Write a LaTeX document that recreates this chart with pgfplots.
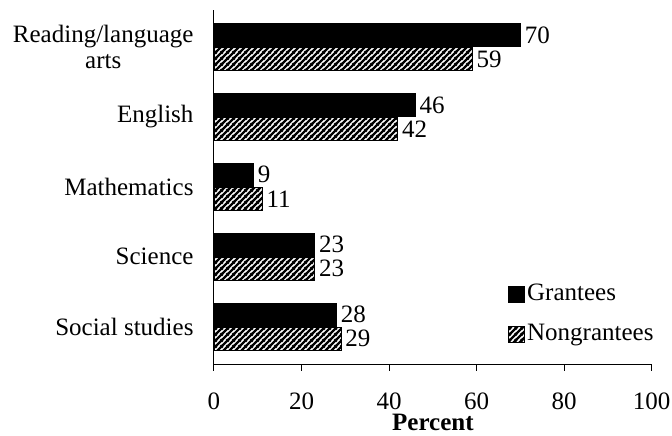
\documentclass[border=0pt]{standalone}
\usepackage{fontspec}
\setmainfont{Liberation Serif}
\usepackage{pgfplots}
\pgfplotsset{compat=1.18}
\usetikzlibrary{patterns}
\pgfdeclarepatternformonly{myhatch}{\pgfpoint{0pt}{0pt}}{\pgfpoint{6pt}{6pt}}{\pgfpoint{6pt}{6pt}}{
  \pgfsetlinewidth{2.5pt}
  \pgfpathmoveto{\pgfpoint{-1pt}{-1pt}}\pgfpathlineto{\pgfpoint{7pt}{7pt}}
  \pgfpathmoveto{\pgfpoint{-1pt}{5pt}}\pgfpathlineto{\pgfpoint{1pt}{7pt}}
  \pgfpathmoveto{\pgfpoint{5pt}{-1pt}}\pgfpathlineto{\pgfpoint{7pt}{1pt}}
  \pgfusepath{stroke}}
\begin{document}
\fontsize{25}{26}\selectfont
\begin{tikzpicture}[font=\fontsize{25}{26}\selectfont]
\begin{axis}[
  scale only axis,
  width=437.7pt, height=355pt,
  xbar, bar width=23pt,
  xmin=0, xmax=100, ymin=-0.55, ymax=4.53,
  xtick={0,20,...,100},
  ytick={0,1,2,3,4},
  yticklabels={Social studies, Science, Mathematics, English, {Reading/language\\arts}},
  y tick label style={align=center, xshift=-6pt},
  x tick label style={yshift=-13pt},
  ytick style={draw=none},
  tick align=outside,
  xtick pos=bottom,
  major tick length=6pt,
  every tick/.style={black, line width=1pt},
  axis x line*=bottom, axis y line*=left,
  axis line style={line width=1pt, -},
  xlabel={\textbf{Percent}},
  xlabel style={yshift=5pt, inner sep=1pt},
  /pgf/number format/assume math mode=true,
  nodes near coords,
  nodes near coords style={anchor=west, inner sep=2pt, xshift=2pt},
  legend cell align=left,
  legend style={at={(0.672,0.235)}, anchor=north west, draw=none, fill=none,
    inner sep=0pt, row sep=16pt,
    /tikz/every even column/.append style={column sep=3pt}},
  legend image code/.code={\draw[#1] (0pt,-8pt) rectangle (16pt,8pt);},
]
\addplot[fill=black, draw=black, line width=0.8pt, bar shift=12pt] coordinates {
  (28,0) (23,1) (9,2) (46,3) (70,4)
};
\addplot[draw=black, line width=0.8pt, bar shift=-12pt,
  pattern=myhatch, pattern color=black] coordinates {
  (29,0) (23,1) (11,2) (42,3) (59,4)
};
\legend{Grantees, Nongrantees}
\end{axis}
\pgfresetboundingbox
\path[use as bounding box] (-214pt,-71pt) rectangle (458pt,365pt);
\end{tikzpicture}
\end{document}
